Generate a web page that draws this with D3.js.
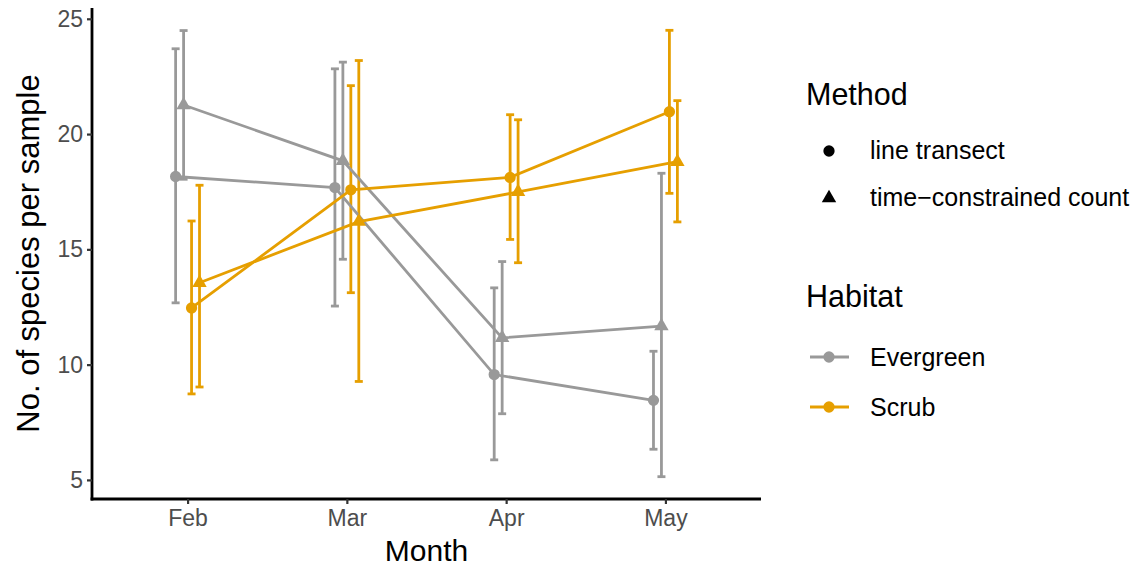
<!DOCTYPE html>
<html>
<head>
<meta charset="utf-8">
<script src="https://cdn.jsdelivr.net/npm/d3@7"></script>
<style>
  html, body { margin: 0; padding: 0; background: #ffffff; }
  svg { display: block; font-family: "Liberation Sans", Arial, sans-serif; }
</style>
</head>
<body>
<svg id="chart" width="1141" height="571"></svg>
<script>
// ---- data ----
const months = ["Feb", "Mar", "Apr", "May"];
const habitats = ["Evergreen", "Scrub"];
const methods = ["line transect", "time\u2212constrained count"];
const yTicks = [5, 10, 15, 20, 25];

const evergreenLineMean = [18.16, 17.68, 9.57, 8.45];
const evergreenLineLow  = [12.68, 12.54, 5.87, 6.33];
const evergreenLineHigh = [23.70, 22.83, 13.33, 10.58];

const evergreenTimeMean = [21.26, 18.84, 11.16, 11.67];
const evergreenTimeLow  = [18.04, 14.57, 7.87, 5.14];
const evergreenTimeHigh = [24.49, 23.12, 14.47, 18.30];

const scrubLineMean = [12.46, 17.58, 18.12, 20.97];
const scrubLineLow  = [8.73, 13.12, 15.43, 17.43];
const scrubLineHigh = [16.23, 22.10, 20.84, 24.50];

const scrubTimeMean = [13.55, 16.20, 17.49, 18.80];
const scrubTimeLow  = [9.03, 9.27, 14.42, 16.19];
const scrubTimeHigh = [17.78, 23.19, 20.62, 21.45];

const groups = [
  { habitat: "Evergreen", method: 0, mean: evergreenLineMean, low: evergreenLineLow, high: evergreenLineHigh },
  { habitat: "Evergreen", method: 1, mean: evergreenTimeMean, low: evergreenTimeLow, high: evergreenTimeHigh },
  { habitat: "Scrub", method: 0, mean: scrubLineMean, low: scrubLineLow, high: scrubLineHigh },
  { habitat: "Scrub", method: 1, mean: scrubTimeMean, low: scrubTimeLow, high: scrubTimeHigh }
];

// ---- layout ----
const svg = d3.select("#chart");
const plotLeft = 92, plotRight = 761, plotTop = 8, plotBottom = 499;

const x = d3.scalePoint().domain(months).range([plotLeft, plotRight]).padding(0.6);
const step = x.step();
const dodgeWidth = 0.2 * step;
const dodge = i => -dodgeWidth / 2 + dodgeWidth / 8 + i * dodgeWidth / 4;

const allLow = d3.min(groups, g => d3.min(g.low));
const allHigh = d3.max(groups, g => d3.max(g.high));
const span = allHigh - allLow;
const y = d3.scaleLinear().domain([allLow - 0.05 * span, allHigh + 0.05 * span]).range([plotBottom, plotTop]);

const color = d3.scaleOrdinal().domain(habitats).range(["#999999", "#E69F00"]);
const symbolFor = m => m === 0 ? d3.symbolCircle : d3.symbolTriangle;
const symbolSize = m => m === 0 ? 100 : 90;
const SW = 2.8;

// ---- marks ----
const g = svg.append("g");
groups.forEach((grp, gi) => {
  const c = color(grp.habitat);
  const px = i => x(months[i]) + dodge(gi);
  const capHalf = 4;
  const eb = g.append("g");
  months.forEach((m, i) => {
    eb.append("line").attr("x1", px(i)).attr("x2", px(i))
      .attr("y1", y(grp.low[i])).attr("y2", y(grp.high[i]))
      .attr("stroke", c).attr("stroke-width", SW);
    [grp.low[i], grp.high[i]].forEach(v => {
      eb.append("line").attr("x1", px(i) - capHalf).attr("x2", px(i) + capHalf)
        .attr("y1", y(v)).attr("y2", y(v))
        .attr("stroke", c).attr("stroke-width", SW);
    });
  });
});
groups.forEach((grp, gi) => {
  const c = color(grp.habitat);
  const px = i => x(months[i]) + dodge(gi);
  g.append("path")
    .datum(grp.mean)
    .attr("d", d3.line().x((d, i) => px(i)).y(d => y(d)))
    .attr("fill", "none").attr("stroke", c).attr("stroke-width", SW);
});
groups.forEach((grp, gi) => {
  const c = color(grp.habitat);
  const px = i => x(months[i]) + dodge(gi);
  g.selectAll(null).data(grp.mean).enter().append("path")
    .attr("d", d3.symbol().type(symbolFor(grp.method)).size(symbolSize(grp.method)))
    .attr("transform", (d, i) => `translate(${px(i)},${y(d)})`)
    .attr("fill", c);
});

// ---- axes ----
const yAxis = svg.append("g").attr("transform", `translate(${plotLeft},0)`)
  .call(d3.axisLeft(y).tickValues(yTicks).tickSize(5).tickPadding(4));
const xAxis = svg.append("g").attr("transform", `translate(0,${plotBottom})`)
  .call(d3.axisBottom(x).tickSize(5).tickPadding(6));
[yAxis, xAxis].forEach(ax => {
  ax.select(".domain").attr("stroke", "#000").attr("stroke-width", 2.8);
  ax.selectAll(".tick line").attr("stroke", "#333").attr("stroke-width", 2.2);
  ax.selectAll(".tick text").attr("fill", "#4d4d4d").attr("font-size", 23)
    .attr("font-family", "Liberation Sans, Arial, sans-serif");
});
yAxis.select(".domain").attr("d", `M0,${plotTop}V${plotBottom + 1.4}`);
xAxis.select(".domain").attr("d", `M${plotLeft - 1.4},0H${plotRight}`);

svg.append("text").attr("x", (plotLeft + plotRight) / 2).attr("y", 561)
  .attr("text-anchor", "middle").attr("font-size", 30).attr("fill", "#000").text("Month");
svg.append("text").attr("transform", `translate(39,${(plotTop + plotBottom) / 2}) rotate(-90)`)
  .attr("text-anchor", "middle").attr("font-size", 31).attr("fill", "#000").text("No. of species per sample");

// ---- legends ----
const leg = svg.append("g");
leg.append("text").attr("x", 806).attr("y", 105).attr("font-size", 30.5).attr("fill", "#000").text("Method");
methods.forEach((m, i) => {
  const cy = 151 + i * 47;
  leg.append("path").attr("d", d3.symbol().type(symbolFor(i)).size(symbolSize(i))())
    .attr("transform", `translate(829,${cy})`).attr("fill", "#000");
  leg.append("text").attr("x", 870).attr("y", cy + 8).attr("font-size", 25).attr("fill", "#000").text(m);
});
leg.append("text").attr("x", 806).attr("y", 307).attr("font-size", 30.5).attr("fill", "#000").text("Habitat");
habitats.forEach((h, i) => {
  const cy = 357 + i * 50;
  leg.append("line").attr("x1", 810).attr("x2", 849).attr("y1", cy).attr("y2", cy)
    .attr("stroke", color(h)).attr("stroke-width", SW);
  leg.append("path").attr("d", d3.symbol().type(d3.symbolCircle).size(100)())
    .attr("transform", `translate(829,${cy})`).attr("fill", color(h));
  leg.append("text").attr("x", 870).attr("y", cy + 9).attr("font-size", 25).attr("fill", "#000").text(h);
});
</script>
</body>
</html>
